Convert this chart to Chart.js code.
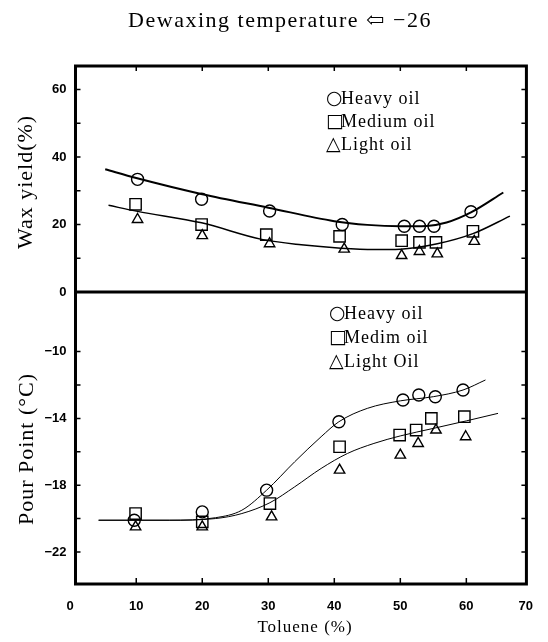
<!DOCTYPE html>
<html>
<head>
<meta charset="utf-8">
<script src="https://cdn.jsdelivr.net/npm/chart.js@4.4.1/dist/chart.umd.min.js"></script>
<style>
    html, body { margin: 0; padding: 0; background: #fff; }
</style>
</head>
<body>
<canvas id="myChart" width="548" height="642"></canvas>
<script>

// toluene (%) tick labels, shared by both panels
var tolueneTicks = [0, 10, 20, 30, 40, 50, 60, 70];
var waxTickLabels = [0, 20, 40, 60];
var pourTickLabels = [-10, -14, -18, -22];

// wax yield (%) - measured samples
var waxHeavyX = [10.2, 19.9, 30.2, 41.2, 50.6, 52.9, 55.1, 60.7];
var waxHeavy = [33.4, 27.5, 24.0, 20.0, 19.5, 19.5, 19.5, 23.8];
var waxMediumX = [9.9, 19.9, 29.7, 40.8, 50.2, 52.9, 55.4, 61.0];
var waxMedium = [26.0, 20.0, 17.0, 16.5, 15.2, 14.7, 14.7, 18.0];
var waxLightX = [10.2, 20.0, 30.2, 41.5, 50.2, 52.9, 55.6, 61.2];
var waxLight = [21.5, 16.7, 14.3, 12.7, 10.8, 12.0, 11.3, 15.0];

// wax yield (%) - hand drawn curves
var waxCurveHeavyX = [5.3, 10, 20, 30, 40, 45, 50, 54, 57, 60.7, 65.6];
var waxCurveHeavy = [36.4, 33.8, 29.0, 25.0, 21.0, 19.9, 19.5, 19.6, 20.6, 23.6, 29.5];
var waxCurveLowX = [5.8, 10.2, 19.9, 29, 35, 41, 46, 50, 55.6, 61, 66.6];
var waxCurveLow = [25.7, 23.9, 20.5, 15.6, 14.0, 13.0, 12.6, 12.7, 14.3, 17.3, 22.5];

// pour point (C) - measured samples
var pourHeavyX = [9.7, 20.0, 29.75, 40.7, 50.4, 52.8, 55.3, 59.5];
var pourHeavy = [-20.1, -19.6, -18.3, -14.2, -12.9, -12.6, -12.7, -12.3];
var pourMediumX = [9.9, 20.0, 30.25, 40.8, 49.9, 52.4, 54.7, 59.7];
var pourMedium = [-19.7, -20.2, -19.1, -15.7, -15.0, -14.7, -14.0, -13.9];
var pourLightX = [9.9, 20.0, 30.5, 40.8, 50.0, 52.7, 55.4, 59.9];
var pourLight = [-20.5, -20.5, -19.9, -17.1, -16.2, -15.5, -14.7, -15.1];

// pour point (C) - hand drawn curves
var pourCurveHeavyX = [4.3, 15, 22, 26, 29.75, 34, 38, 40.7, 45, 50, 55, 59.5, 62.9];
var pourCurveHeavy = [-20.1, -20.1, -19.95, -19.5, -18.3, -16.6, -15.1, -14.2, -13.4, -12.95, -12.7, -12.3, -11.7];
var pourCurveLowX = [4.3, 15, 22, 26, 30.25, 34, 38, 42, 46, 50, 55, 60, 64.8];
var pourCurveLow = [-20.1, -20.1, -20.0, -19.7, -19.05, -18.1, -17.0, -16.1, -15.5, -15.05, -14.6, -14.15, -13.7];

// legend entries of the two panels
var waxLegend = ['Heavy oil', 'Medium oil', 'Light oil'];
var pourLegend = ['Heavy oil', 'Medim oil', 'Light Oil'];
var legendSymbols = ['\u25CB', '\u25A1', '\u25B3'];

function pts(xs, ys) {
    return xs.map(function(x, i) {
        return {x: x, y: ys[i]};
    });
}

function marks(xs, ys, axis, style, radius) {
    return {
        data: pts(xs, ys),
        yAxisID: axis,
        showLine: false,
        pointStyle: style,
        pointRadius: radius,
        pointBorderWidth: 1.4,
        pointBorderColor: '#000',
        pointBackgroundColor: 'rgba(0,0,0,0)'
    };
}

function curve(xs, ys, axis, width) {
    return {
        data: pts(xs, ys),
        yAxisID: axis,
        showLine: true,
        cubicInterpolationMode: 'monotone',
        borderColor: '#000',
        borderWidth: width,
        pointRadius: 0
    };
}

var serif = '"Liberation Serif", "DejaVu Serif", serif';

// frame and inward tick marks
var framePlugin = {
    id: 'frame',
    afterDatasetsDraw: function(chart) {
        var ctx = chart.ctx;
        var a = chart.chartArea;
        var x = chart.scales.x, yW = chart.scales.yW, yP = chart.scales.yP;
        var ySep = yW.getPixelForValue(0);
        ctx.save();
        ctx.strokeStyle = '#000';
        ctx.lineWidth = 1.5;
        ctx.beginPath();
        [10, 20, 30, 40, 50, 60].forEach(function(v) {
            var px = x.getPixelForValue(v);
            ctx.moveTo(px, a.bottom); ctx.lineTo(px, a.bottom - 6);
            ctx.moveTo(px, a.top); ctx.lineTo(px, a.top + 5);
        });
        [10, 20, 30, 40, 50, 60].forEach(function(v) {
            var py = yW.getPixelForValue(v);
            ctx.moveTo(a.left, py); ctx.lineTo(a.left + 5, py);
            ctx.moveTo(a.right, py); ctx.lineTo(a.right - 5, py);
        });
        [-10, -12, -14, -16, -18, -20, -22].forEach(function(v) {
            var py = yP.getPixelForValue(v);
            ctx.moveTo(a.left, py); ctx.lineTo(a.left + 5, py);
            ctx.moveTo(a.right, py); ctx.lineTo(a.right - 5, py);
        });
        ctx.stroke();
        ctx.lineWidth = 3;
        ctx.strokeRect(a.left, a.top, a.right - a.left, a.bottom - a.top);
        ctx.beginPath();
        ctx.moveTo(a.left, ySep);
        ctx.lineTo(a.right, ySep);
        ctx.stroke();
        ctx.restore();
    }
};

function drawLegend(ctx, labels, x, y, gap) {
    labels.forEach(function(label, i) {
        var ly = y + i * gap;
        ctx.font = '19px "DejaVu Sans", sans-serif';
        ctx.letterSpacing = '0px';
        ctx.fillText(legendSymbols[i], x, ly);
        ctx.font = '18px ' + serif;
        ctx.letterSpacing = '1px';
        ctx.fillText(label, x + 15, ly);
    });
}

// title, axis titles and the two legends
var textPlugin = {
    id: 'texts',
    afterDraw: function(chart) {
        var ctx = chart.ctx;
        ctx.save();
        ctx.fillStyle = '#000';
        ctx.textBaseline = 'middle';

        ctx.font = '22px ' + serif;
        ctx.letterSpacing = '1.5px';
        ctx.textAlign = 'center';
        ctx.fillText('Dewaxing temperature \u21E6 \u221226', 280, 21);

        ctx.letterSpacing = '1px';
        ctx.font = '22px ' + serif;
        ctx.save();
        ctx.translate(26, 182);
        ctx.rotate(-Math.PI / 2);
        ctx.fillText('Wax yield(%)', 0, 0);
        ctx.restore();
        ctx.save();
        ctx.translate(27, 449);
        ctx.rotate(-Math.PI / 2);
        ctx.fillText('Pour Point (\u00B0C)', 0, 0);
        ctx.restore();

        ctx.font = '17px ' + serif;
        ctx.fillText('Toluene (%)', 305, 628);

        ctx.textAlign = 'left';
        drawLegend(ctx, waxLegend, 326, 99, 23);
        drawLegend(ctx, pourLegend, 329, 314, 24);
        ctx.restore();
    }
};

var tickFont = {family: '"Liberation Sans", Arial, sans-serif', size: 13, weight: 'bold'};

var ctx = document.getElementById('myChart').getContext('2d');
new Chart(ctx, {
    type: 'scatter',
    plugins: [framePlugin, textPlugin],
    data: {
        datasets: [
            curve(waxCurveHeavyX, waxCurveHeavy, 'yW', 2),
            curve(waxCurveLowX, waxCurveLow, 'yW', 1.5),
            marks(waxHeavyX, waxHeavy, 'yW', 'circle', 6),
            marks(waxMediumX, waxMedium, 'yW', 'rect', 8),
            marks(waxLightX, waxLight, 'yW', 'triangle', 6),
            curve(pourCurveHeavyX, pourCurveHeavy, 'yP', 1),
            curve(pourCurveLowX, pourCurveLow, 'yP', 1),
            marks(pourHeavyX, pourHeavy, 'yP', 'circle', 6),
            marks(pourMediumX, pourMedium, 'yP', 'rect', 8),
            marks(pourLightX, pourLight, 'yP', 'triangle', 6)
        ]
    },
    options: {
        responsive: false,
        animation: false,
        layout: {
            padding: {top: 66, right: 3, left: 0, bottom: 0}
        },
        plugins: {
            legend: {display: false},
            tooltip: {enabled: false}
        },
        scales: {
            x: {
                type: 'linear',
                position: 'bottom',
                min: 0.8,
                max: 69.1,
                // the last label sits at the frame corner in the original
                afterBuildTicks: function(s) {
                    s.ticks = tolueneTicks.map(function(v) { return {value: Math.min(v, 69.0)}; });
                },
                afterFit: function(s) { s.height = 58; },
                grid: {display: false, drawTicks: false},
                border: {display: false},
                ticks: {
                    font: tickFont, color: '#000', padding: 15, maxRotation: 0, autoSkip: false,
                    callback: function(v, i) { return tolueneTicks[i]; }
                }
            },
            yW: {
                type: 'linear',
                position: 'left',
                stack: 'panels',
                stackWeight: 226,
                weight: 2,
                min: 0,
                max: 67,
                afterBuildTicks: function(s) {
                    s.ticks = waxTickLabels.map(function(v) { return {value: v}; });
                },
                afterFit: function(s) { s.width = 75.5; },
                grid: {display: false, drawTicks: false},
                border: {display: false},
                ticks: {font: tickFont, color: '#000', padding: 9}
            },
            yP: {
                type: 'linear',
                position: 'left',
                stack: 'panels',
                stackWeight: 292,
                weight: 1,
                min: -23.92,
                max: -6.43,
                afterBuildTicks: function(s) {
                    s.ticks = pourTickLabels.map(function(v) { return {value: v}; });
                },
                afterFit: function(s) { s.width = 75.5; },
                grid: {display: false, drawTicks: false},
                border: {display: false},
                ticks: {
                    font: tickFont, color: '#000', padding: 9,
                    callback: function(v) { return '\u2212' + Math.abs(v); }
                }
            }
        }
    }
});
</script>
</body>
</html>
